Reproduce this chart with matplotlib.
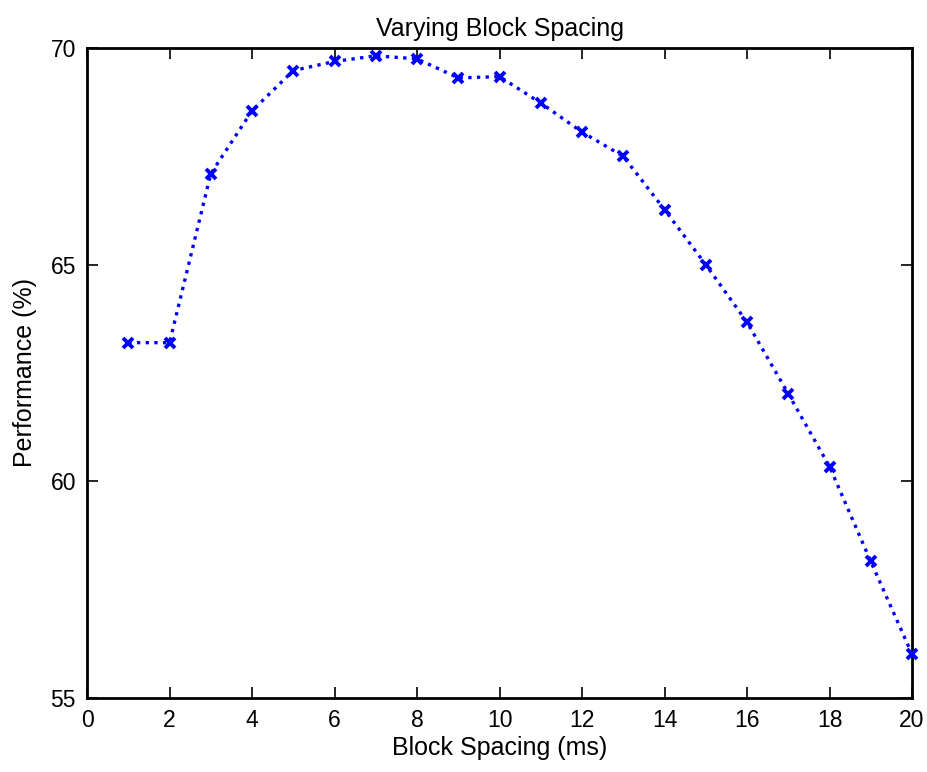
import matplotlib
matplotlib.use("Agg")
import matplotlib.pyplot as plt

# block spacing (ms) and measured performance (%)
spacing = [1, 2, 3, 4, 5, 6, 7, 8, 9, 10, 11, 12, 13, 14, 15, 16, 17, 18, 19, 20]
performance = [63.20, 63.20, 67.10, 68.55, 69.48, 69.69, 69.82, 69.75, 69.31, 69.34,
               68.73, 68.06, 67.50, 66.27, 65.00, 63.67, 62.02, 60.34, 58.15, 56.01]

xticks = list(range(0, 21, 2))
yticks = [55, 60, 65, 70]

plt.rcParams["font.family"] = ["Liberation Sans", "DejaVu Sans"]

fig = plt.figure(figsize=(9.28, 7.72), dpi=100)
ax = fig.add_axes([0.0938, 0.0959, 0.889, 0.8419])

# dotted line with x markers, last point sits on the axis edge so no clipping
ax.plot(spacing, performance, color="blue", linestyle=(0, (1, 1.6)), linewidth=2.4,
        marker="x", markersize=7, markeredgewidth=2.8, clip_on=False, zorder=3)

ax.set_xlim(0, 20)
ax.set_ylim(55, 70)
ax.set_xticks(xticks)
ax.set_yticks(yticks)
ax.tick_params(direction="in", length=8, width=1.2, top=True, right=True,
               labelsize=16.5, pad=8)
for s in ax.spines.values():
    s.set_linewidth(2)

ax.set_title("Varying Block Spacing", fontsize=18, pad=9)
ax.set_xlabel("Block Spacing (ms)", fontsize=18, labelpad=3)
ax.set_ylabel("Performance (%)", fontsize=18, labelpad=10)

fig.savefig("out.png", dpi=100)
